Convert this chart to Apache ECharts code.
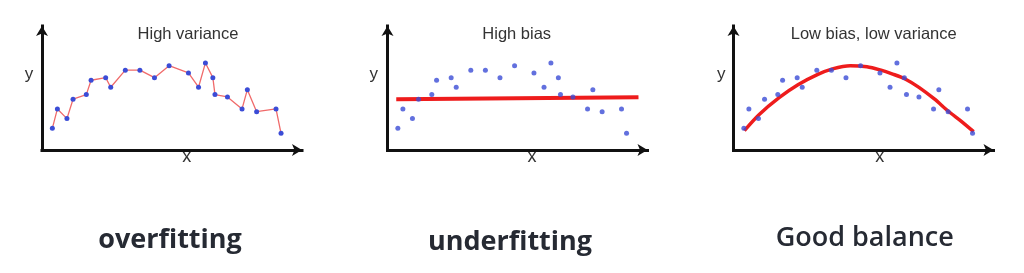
<!DOCTYPE html>
<html>
<head>
<meta charset="utf-8">
<script src="https://cdn.jsdelivr.net/npm/echarts@6/dist/echarts.min.js"></script>
<style>
html,body{margin:0;padding:0;background:#fff;}
#chart{width:1024px;height:273px;}
</style>
</head>
<body>
<div id="chart"></div>
<script>
// Observations (shared by the three panels)
const obsX = [3.9, 5.8, 9.4, 11.7, 16.7, 18.5, 24.0, 25.9, 31.4, 36.9, 42.4, 47.9, 55.2, 59.0, 61.6, 64.4, 65.2, 69.9, 75.4, 77.4, 80.9, 88.2, 90.1];
const obsY = [16.8, 31.8, 24.3, 39.3, 42.9, 54.0, 56.0, 48.6, 61.8, 61.8, 56.0, 65.3, 59.7, 48.6, 67.4, 56.0, 42.9, 41.1, 31.8, 46.7, 29.7, 31.8, 12.9];
// Underfit (flat) line
const flatX = [3.3, 94.6];
const flatY = [39.3, 40.9];
// Good-balance curve
const curveX = [4.1, 9.7, 17.2, 24.3, 31.8, 37.3, 44.0, 50.3, 55.3, 60.0, 64.7, 69.9, 75.7, 81.0, 86.0, 90.5];
const curveY = [15.0, 27.5, 40.5, 50.5, 58.5, 62.8, 65.3, 64.5, 62.0, 58.8, 55.0, 48.5, 39.5, 30.0, 22.0, 14.2];
// Texts
const panelTitles = ['High variance', 'High bias', 'Low bias, low variance'];
const captions = ['overfitting', 'underfitting', 'Good balance'];

const pts = (xs, ys) => xs.map((x, i) => [x, ys[i]]);

const gridLefts = [42, 387.5, 733.5];
const grids = gridLefts.map(l => ({left: l, top: 26, width: 260, height: 124}));

const axisLine = {
  show: true,
  symbol: ['none', 'arrow'],
  symbolSize: [9, 10],
  lineStyle: {color: '#111', width: 3, cap: 'square'}
};
const xAxes = grids.map((g, i) => ({
  type: 'value', gridIndex: i, min: 0, max: 98,
  axisLine: axisLine, axisTick: {show: false}, axisLabel: {show: false}, splitLine: {show: false}
}));
const yAxes = grids.map((g, i) => ({
  type: 'value', gridIndex: i, min: 0, max: 96,
  axisLine: axisLine, axisTick: {show: false}, axisLabel: {show: false}, splitLine: {show: false}
}));

const dotColor = '#3b4cd6';
const series = [
  {
    type: 'line', xAxisIndex: 0, yAxisIndex: 0, data: pts(obsX, obsY),
    symbol: 'circle', symbolSize: 5, showSymbol: true,
    itemStyle: {color: dotColor}, lineStyle: {color: '#f06a6a', width: 1.3},
    animation: false, z: 3
  },
  {
    type: 'line', xAxisIndex: 1, yAxisIndex: 1, data: pts(flatX, flatY),
    showSymbol: false, lineStyle: {color: '#ee1c1c', width: 4}, animation: false, z: 2
  },
  {
    type: 'scatter', xAxisIndex: 1, yAxisIndex: 1, data: pts(obsX, obsY),
    symbolSize: 5, itemStyle: {color: dotColor}, animation: false, z: 3
  },
  {
    type: 'line', xAxisIndex: 2, yAxisIndex: 2, data: pts(curveX, curveY),
    showSymbol: false, smooth: 0.3, lineStyle: {color: '#ee1c1c', width: 3.5}, animation: false, z: 2
  },
  {
    type: 'scatter', xAxisIndex: 2, yAxisIndex: 2, data: pts(obsX, obsY),
    symbolSize: 5, itemStyle: {color: dotColor}, animation: false, z: 3
  }
];

const titleCenters = [188, 516.7, 873.7];
const xLabelCenters = [186.7, 532, 879.7];
const yLabelCenters = [29, 373.7, 721.2];
const capCenters = [170, 510, 864.7];
const capY = [240, 242, 238];
const capFont = ['bold 27px "Open Sans"', 'bold 27px "Open Sans"', '600 27px "Open Sans"'];

const graphic = [];
for (let i = 0; i < 3; i++) {
  graphic.push({type: 'text', style: {text: panelTitles[i], x: titleCenters[i], y: 34.5, align: 'center', verticalAlign: 'middle', font: '16.5px "Liberation Sans", Arial', fill: '#333'}});
  graphic.push({type: 'text', style: {text: 'x', x: xLabelCenters[i], y: 157.5, align: 'center', verticalAlign: 'middle', font: '18px "Liberation Sans", Arial', fill: '#333'}});
  graphic.push({type: 'text', style: {text: 'y', x: yLabelCenters[i], y: 74.5, align: 'center', verticalAlign: 'middle', font: '17px "Liberation Sans", Arial', fill: '#333'}});
  graphic.push({type: 'text', style: {text: captions[i], x: capCenters[i], y: capY[i], align: 'center', verticalAlign: 'middle', font: capFont[i], fill: '#262a33'}});
}

const chart = echarts.init(document.getElementById('chart'), null, {renderer: 'canvas'});
chart.setOption({
  backgroundColor: '#ffffff',
  animation: false,
  grid: grids,
  xAxis: xAxes,
  yAxis: yAxes,
  series: series,
  graphic: graphic
});
</script>
</body>
</html>
